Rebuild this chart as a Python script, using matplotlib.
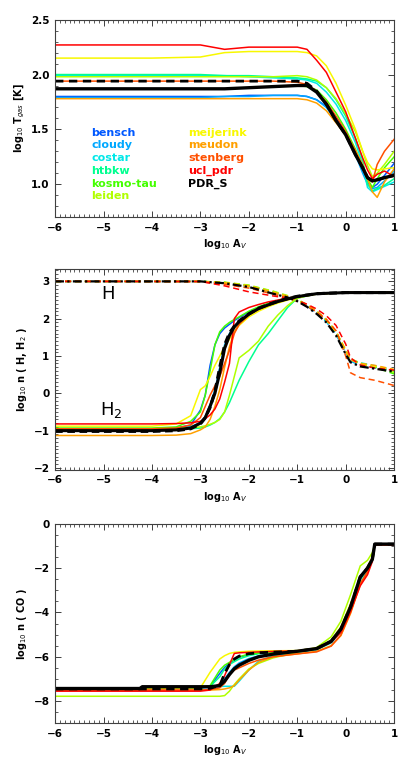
import matplotlib
matplotlib.use("Agg")
import matplotlib.pyplot as plt
from matplotlib.ticker import MultipleLocator

models = ["bensch", "cloudy", "costar", "htbkw", "kosmo-tau", "leiden",
          "meijerink", "meudon", "stenberg", "ucl_pdr", "PDR_S"]
colors = {"bensch": "#0058ff", "cloudy": "#00a8ff", "costar": "#00e8e8",
          "htbkw": "#00ff90", "kosmo-tau": "#44ff00", "leiden": "#b0ff00",
          "meijerink": "#f8f800", "meudon": "#ffa000", "stenberg": "#ff5000",
          "ucl_pdr": "#ff0000", "PDR_S": "black"}

# ---- panel 1: gas temperature ----
av_t = [-6, -4, -3, -2.5, -2, -1.5, -1, -0.8, -0.6, -0.4, -0.2, 0, 0.2, 0.35, 0.45, 0.55, 0.65, 0.8, 1.0]
tgas = {
    "bensch":    [1.80, 1.80, 1.80, 1.80, 1.81, 1.81, 1.81, 1.80, 1.77, 1.71, 1.60, 1.47, 1.30, 1.13, 1.02, 0.97, 1.00, 1.08, 1.19],
    "cloudy":    [1.79, 1.79, 1.79, 1.80, 1.80, 1.81, 1.81, 1.80, 1.77, 1.70, 1.58, 1.45, 1.27, 1.10, 1.00, 0.96, 0.97, 1.03, 1.12],
    "costar":    [1.99, 1.99, 1.99, 1.99, 1.98, 1.97, 1.96, 1.95, 1.92, 1.84, 1.73, 1.58, 1.38, 1.18, 0.97, 0.93, 0.95, 0.98, 1.02],
    "htbkw":     [2.00, 2.00, 2.00, 1.99, 1.99, 1.98, 1.97, 1.96, 1.94, 1.88, 1.77, 1.62, 1.42, 1.22, 1.00, 0.94, 0.96, 0.99, 1.05],
    "kosmo-tau": [1.87, 1.87, 1.87, 1.87, 1.88, 1.89, 1.90, 1.89, 1.86, 1.77, 1.65, 1.50, 1.32, 1.16, 1.05, 0.97, 1.05, 1.15, 1.25],
    "leiden":    [1.98, 1.98, 1.98, 1.98, 1.98, 1.98, 1.99, 1.98, 1.95, 1.88, 1.78, 1.64, 1.48, 1.30, 1.17, 1.07, 1.10, 1.18, 1.30],
    "meijerink": [2.15, 2.15, 2.16, 2.20, 2.21, 2.21, 2.21, 2.20, 2.17, 2.08, 1.92, 1.72, 1.50, 1.30, 1.20, 1.14, 1.13, 1.14, 1.15],
    "meudon":    [1.78, 1.78, 1.78, 1.78, 1.78, 1.78, 1.78, 1.77, 1.74, 1.67, 1.56, 1.45, 1.31, 1.18, 1.05, 0.93, 0.88, 1.02, 1.14],
    "stenberg":  [1.94, 1.94, 1.94, 1.94, 1.94, 1.94, 1.93, 1.91, 1.85, 1.75, 1.62, 1.48, 1.30, 1.14, 1.05, 1.02, 1.18, 1.30, 1.41],
    "ucl_pdr":   [2.27, 2.27, 2.27, 2.23, 2.25, 2.25, 2.25, 2.23, 2.13, 2.02, 1.84, 1.66, 1.42, 1.24, 1.13, 1.05, 1.09, 1.12, 1.07],
    "PDR_S":     [1.87, 1.87, 1.87, 1.87, 1.88, 1.89, 1.90, 1.90, 1.84, 1.73, 1.58, 1.45, 1.27, 1.15, 1.06, 1.03, 1.04, 1.06, 1.08],
}
tgas_ref = [1.94, 1.94, 1.94, 1.94, 1.94, 1.94, 1.94, 1.92, 1.85, 1.73, 1.58, 1.45, 1.27, 1.15, 1.06, 1.03, 1.04, 1.06, 1.08]

# ---- panel 2: H2 (solid) and H (dashed) ----
av_h2 = [-6, -4, -3.5, -3.2, -3.0, -2.9, -2.8, -2.7, -2.6, -2.5, -2.4, -2.3, -2.2, -2.0, -1.8, -1.6, -1.4, -1.2, -1.0, -0.6, 0, 1]
nh2 = {
    "bensch":    [-0.95, -0.95, -0.93, -0.85, -0.45, -0.05, 0.75, 1.30, 1.60, 1.75, 1.85, 1.95, 2.03, 2.18, 2.30, 2.40, 2.48, 2.55, 2.60, 2.67, 2.70, 2.70],
    "cloudy":    [-0.98, -0.98, -0.96, -0.90, -0.78, -0.62, -0.30, 0.10, 0.70, 1.30, 1.60, 1.80, 1.93, 2.12, 2.27, 2.37, 2.46, 2.53, 2.59, 2.67, 2.70, 2.70],
    "costar":    [-0.97, -0.97, -0.95, -0.90, -0.80, -0.66, -0.40, 0.00, 0.60, 1.25, 1.58, 1.78, 1.92, 2.12, 2.27, 2.37, 2.46, 2.53, 2.59, 2.67, 2.70, 2.70],
    "htbkw":     [-0.97, -0.97, -0.96, -0.95, -0.93, -0.90, -0.85, -0.78, -0.68, -0.50, -0.25, 0.05, 0.35, 0.85, 1.30, 1.60, 1.95, 2.30, 2.55, 2.67, 2.70, 2.70],
    "kosmo-tau": [-0.93, -0.93, -0.90, -0.75, -0.50, -0.05, 0.60, 1.30, 1.65, 1.80, 1.90, 1.98, 2.05, 2.20, 2.32, 2.41, 2.49, 2.55, 2.60, 2.67, 2.70, 2.70],
    "leiden":    [-0.95, -0.95, -0.94, -0.92, -0.90, -0.87, -0.83, -0.78, -0.70, -0.50, -0.05, 0.45, 0.95, 1.15, 1.40, 1.80, 2.10, 2.35, 2.55, 2.67, 2.70, 2.70],
    "meijerink": [-0.88, -0.88, -0.82, -0.60, 0.10, 0.20, 0.45, 0.75, 1.00, 1.25, 1.45, 1.65, 1.82, 2.05, 2.20, 2.32, 2.42, 2.50, 2.57, 2.66, 2.70, 2.70],
    "meudon":    [-1.13, -1.13, -1.12, -1.08, -0.98, -0.90, -0.70, -0.35, 0.10, 0.70, 1.25, 1.65, 1.85, 2.10, 2.25, 2.36, 2.45, 2.52, 2.58, 2.67, 2.70, 2.70],
    "stenberg":  [-0.95, -0.95, -0.93, -0.85, -0.65, -0.35, -0.05, 0.20, 0.45, 0.80, 1.15, 1.60, 1.85, 2.10, 2.25, 2.36, 2.45, 2.52, 2.58, 2.67, 2.70, 2.70],
    "ucl_pdr":   [-0.82, -0.82, -0.81, -0.79, -0.75, -0.68, -0.58, -0.42, -0.15, 0.30, 0.80, 2.00, 2.18, 2.30, 2.38, 2.45, 2.50, 2.55, 2.60, 2.67, 2.70, 2.70],
    "PDR_S":     [-1.00, -1.00, -0.98, -0.93, -0.80, -0.65, -0.35, 0.00, 0.55, 1.20, 1.55, 1.78, 1.92, 2.12, 2.27, 2.37, 2.46, 2.53, 2.59, 2.67, 2.70, 2.70],
}
nh2_ref = [-1.02, -1.02, -1.00, -0.95, -0.82, -0.66, -0.38, 0.05, 0.70, 1.30, 1.62, 1.80, 1.94, 2.13, 2.28, 2.38, 2.47, 2.54, 2.60, 2.67, 2.70, 2.70]

av_h = [-6, -3, -2.5, -2, -1.5, -1.2, -1.0, -0.8, -0.6, -0.4, -0.2, 0, 0.1, 0.3, 0.6, 1.0]
nh = {
    "bensch":    [3.0, 3.0, 2.96, 2.87, 2.70, 2.59, 2.49, 2.35, 2.16, 1.93, 1.60, 1.10, 0.88, 0.77, 0.70, 0.60],
    "cloudy":    [3.0, 3.0, 2.96, 2.86, 2.69, 2.58, 2.48, 2.34, 2.15, 1.92, 1.58, 1.08, 0.86, 0.75, 0.68, 0.59],
    "costar":    [3.0, 3.0, 2.97, 2.89, 2.73, 2.61, 2.51, 2.37, 2.19, 1.96, 1.63, 1.13, 0.91, 0.82, 0.74, 0.62],
    "htbkw":     [3.0, 3.0, 2.97, 2.88, 2.72, 2.60, 2.50, 2.36, 2.18, 1.95, 1.62, 1.12, 0.90, 0.80, 0.72, 0.57],
    "kosmo-tau": [3.0, 3.0, 2.97, 2.89, 2.72, 2.60, 2.50, 2.37, 2.19, 1.97, 1.65, 1.15, 0.92, 0.80, 0.70, 0.52],
    "leiden":    [3.0, 3.0, 2.98, 2.90, 2.74, 2.62, 2.52, 2.38, 2.20, 1.98, 1.66, 1.16, 0.93, 0.81, 0.72, 0.56],
    "meijerink": [3.0, 3.0, 2.96, 2.87, 2.70, 2.59, 2.49, 2.36, 2.18, 1.96, 1.64, 1.12, 0.90, 0.78, 0.73, 0.63],
    "meudon":    [3.0, 3.0, 2.96, 2.88, 2.71, 2.60, 2.50, 2.37, 2.20, 1.98, 1.66, 1.14, 0.90, 0.80, 0.75, 0.64],
    "stenberg":  [3.0, 2.99, 2.92, 2.82, 2.66, 2.55, 2.46, 2.33, 2.18, 1.98, 1.68, 1.00, 0.55, 0.42, 0.35, 0.21],
    "ucl_pdr":   [3.0, 3.0, 2.88, 2.72, 2.61, 2.55, 2.49, 2.39, 2.26, 2.08, 1.82, 1.32, 0.95, 0.76, 0.68, 0.62],
    "PDR_S":     [3.0, 3.0, 2.95, 2.85, 2.67, 2.57, 2.47, 2.32, 2.13, 1.90, 1.55, 1.05, 0.83, 0.72, 0.66, 0.58],
}

# ---- panel 3: CO ----
av_co = [-6, -4.25, -4.2, -3.0, -2.8, -2.6, -2.5, -2.4, -2.3, -2.2, -2.0, -1.8, -1.5, -1.0, -0.6, -0.3, -0.1, 0.1, 0.3, 0.45, 0.55, 0.6, 1.0]
nco = {
    "bensch":    [-7.40, -7.40, -7.40, -7.40, -7.33, -6.75, -6.48, -6.30, -6.15, -6.02, -5.90, -5.84, -5.80, -5.75, -5.64, -5.32, -4.80, -3.80, -2.45, -2.00, -1.60, -0.93, -0.93],
    "cloudy":    [-7.42, -7.42, -7.40, -7.40, -7.38, -7.25, -7.00, -6.70, -6.45, -6.28, -6.08, -5.96, -5.86, -5.76, -5.64, -5.32, -4.78, -3.78, -2.42, -1.98, -1.58, -0.93, -0.93],
    "costar":    [-7.40, -7.40, -7.40, -7.38, -7.36, -7.34, -7.33, -7.33, -7.33, -7.10, -6.60, -6.20, -5.95, -5.80, -5.68, -5.38, -4.88, -3.90, -2.55, -2.10, -1.70, -0.93, -0.93],
    "htbkw":     [-7.42, -7.42, -7.42, -7.40, -7.34, -6.90, -6.55, -6.35, -6.22, -6.10, -5.95, -5.86, -5.81, -5.76, -5.65, -5.34, -4.82, -3.82, -2.48, -2.02, -1.62, -0.93, -0.93],
    "kosmo-tau": [-7.40, -7.40, -7.40, -7.40, -7.30, -6.60, -6.38, -6.25, -6.12, -6.00, -5.88, -5.83, -5.79, -5.74, -5.62, -5.30, -4.76, -3.76, -2.44, -2.00, -1.60, -0.93, -0.93],
    "leiden":    [-7.78, -7.78, -7.78, -7.78, -7.78, -7.78, -7.75, -7.55, -7.25, -7.00, -6.55, -6.30, -6.05, -5.80, -5.58, -5.10, -4.40, -3.20, -1.90, -1.65, -1.30, -0.92, -0.92],
    "meijerink": [-7.45, -7.45, -7.45, -7.40, -6.70, -6.10, -5.95, -5.85, -5.80, -5.78, -5.75, -5.74, -5.73, -5.72, -5.60, -5.25, -4.65, -3.60, -2.40, -1.95, -1.50, -0.92, -0.92],
    "meudon":    [-7.50, -7.50, -7.50, -7.50, -7.50, -7.48, -7.45, -7.40, -7.30, -7.05, -6.60, -6.25, -6.00, -5.87, -5.75, -5.50, -5.05, -4.05, -2.75, -2.20, -1.65, -0.95, -0.95],
    "stenberg":  [-7.50, -7.50, -7.50, -7.50, -7.48, -7.40, -7.20, -6.80, -6.60, -6.50, -6.30, -6.15, -6.00, -5.87, -5.78, -5.52, -5.02, -4.00, -2.70, -2.15, -1.62, -0.94, -0.94],
    "ucl_pdr":   [-7.55, -7.55, -7.55, -7.55, -7.50, -7.20, -6.85, -6.35, -5.85, -5.82, -5.80, -5.78, -5.76, -5.73, -5.65, -5.35, -4.90, -3.95, -2.80, -2.30, -1.70, -0.95, -0.95],
    "PDR_S":     [-7.43, -7.43, -7.35, -7.35, -7.35, -7.30, -7.10, -6.80, -6.54, -6.38, -6.16, -6.00, -5.88, -5.75, -5.63, -5.30, -4.75, -3.75, -2.40, -2.00, -1.60, -0.92, -0.92],
}
nco_ref = [-7.45, -7.45, -7.45, -7.45, -7.42, -7.30, -6.75, -6.35, -6.10, -5.97, -5.86, -5.82, -5.79, -5.75, -5.63, -5.30, -4.75, -3.75, -2.40, -2.00, -1.60, -0.92, -0.92]

fig = plt.figure(figsize=(4.11, 7.59), dpi=100)
ax1 = fig.add_axes([0.134, 0.714, 0.825, 0.260])
ax2 = fig.add_axes([0.134, 0.381, 0.825, 0.264])
ax3 = fig.add_axes([0.134, 0.047, 0.825, 0.263])

frame = "#404040"
for ax in (ax1, ax2, ax3):
    ax.set_xlim(-6, 1)
    ax.xaxis.set_major_locator(MultipleLocator(1))
    ax.xaxis.set_minor_locator(MultipleLocator(0.1))
    ax.tick_params(which="both", direction="in", top=True, right=True, color=frame,
                   labelsize=7.5, pad=4)
    ax.tick_params(which="major", length=4, width=0.7)
    ax.tick_params(which="minor", length=2, width=0.6)
    for s in ax.spines.values():
        s.set_color(frame)
        s.set_linewidth(0.8)
    ax.set_xlabel("log$_{10}$ A$_V$", fontsize=7, fontweight="bold", labelpad=3)

# panel 1
for m in models[:-1]:
    ax1.plot(av_t, tgas[m], color=colors[m], lw=1.1)
ax1.plot(av_t, tgas_ref, color="black", lw=2, ls=(0, (3, 2)))
ax1.plot(av_t, tgas["PDR_S"], color="black", lw=2.4)
ax1.set_ylim(0.7, 2.5)
ax1.yaxis.set_major_locator(MultipleLocator(0.5))
ax1.yaxis.set_minor_locator(MultipleLocator(0.1))
ax1.yaxis.set_major_formatter(plt.FormatStrFormatter("%.1f"))
ax1.set_ylabel("log$_{10}$ T$_{gas}$ [K]", fontsize=7, fontweight="bold", labelpad=3)

col_x = [-5.25, -3.25]
for i, m in enumerate(models):
    col = 0 if i < 6 else 1
    row = i if i < 6 else i - 6
    ax1.text(col_x[col], 1.47 - row * 0.116, m, color=colors[m], fontsize=8,
             fontweight="bold", va="center", ha="left")

# panel 2
for m in models[:-1]:
    ax2.plot(av_h, nh[m], color=colors[m], lw=1.1, ls=(0, (4, 2.5)))
for m in models[:-1]:
    ax2.plot(av_h2, nh2[m], color=colors[m], lw=1.1)
ax2.plot(av_h2, nh2_ref, color="black", lw=2.2, ls=(0, (2.5, 1.5)))
ax2.plot(av_h2, nh2["PDR_S"], color="black", lw=2.2)
ax2.plot(av_h, nh["PDR_S"], color="black", lw=1.6, ls=(0, (4, 1.5, 1, 1.5)))
ax2.set_ylim(-2.05, 3.32)
ax2.yaxis.set_major_locator(MultipleLocator(1))
ax2.yaxis.set_minor_locator(MultipleLocator(0.1))
ax2.set_ylabel("log$_{10}$ n ( H, H$_2$ )", fontsize=7, fontweight="bold", labelpad=3)
ax2.text(-5.05, 2.65, "H", fontsize=13, va="center", ha="left")
ax2.text(-5.07, -0.45, "H$_2$", fontsize=13, va="center", ha="left")

# panel 3
for m in models[:-1]:
    ax3.plot(av_co, nco[m], color=colors[m], lw=1.1)
ax3.plot(av_co, nco_ref, color="black", lw=2, ls=(0, (3, 2)))
ax3.plot(av_co, nco["PDR_S"], color="black", lw=2.4)
ax3.set_ylim(-9, 0)
ax3.yaxis.set_major_locator(MultipleLocator(2))
ax3.yaxis.set_minor_locator(MultipleLocator(0.5))
ax3.set_ylabel("log$_{10}$ n ( CO )", fontsize=7, fontweight="bold", labelpad=3)

for ax in (ax1, ax2, ax3):
    for lab in ax.get_xticklabels() + ax.get_yticklabels():
        lab.set_fontweight("bold")

fig.savefig("out.png", dpi=100)
